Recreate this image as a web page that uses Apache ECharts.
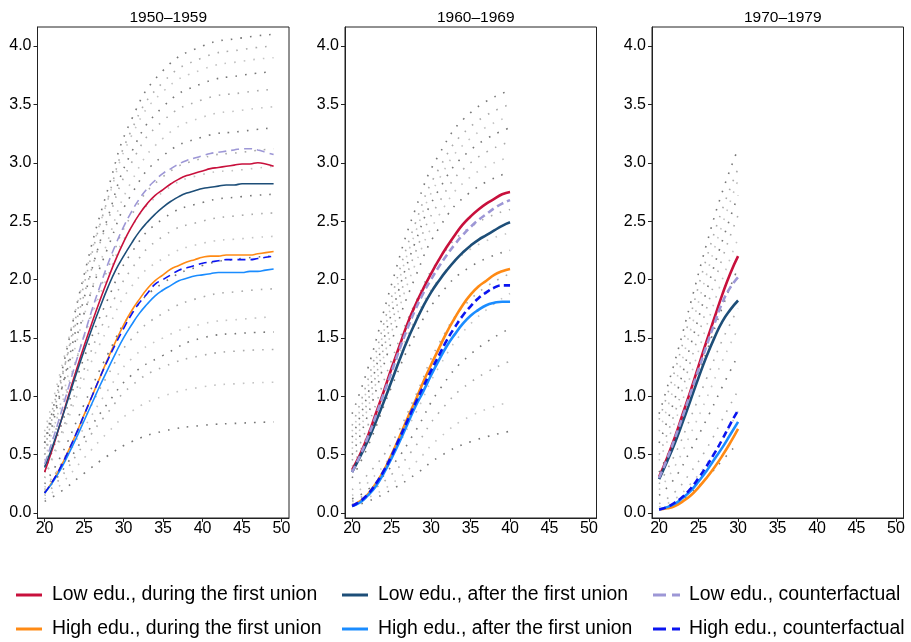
<!DOCTYPE html>
<html>
<head>
<meta charset="utf-8">
<script src="https://cdn.jsdelivr.net/npm/echarts@6/dist/echarts.min.js"></script>
<style>
  html, body { margin: 0; padding: 0; background: #fff; }
  #chart { width: 911px; height: 642px; }
</style>
</head>
<body>
<div id="chart"></div>
<script>
// panel titles
var panelTitles = ['1950\u20131959', '1960\u20131969', '1970\u20131979'];
var xTicks = [20, 25, 30, 35, 40, 45, 50];
var yTicks = [0, 0.5, 1, 1.5, 2, 2.5, 3, 3.5, 4];

var seriesNames = [
  'Low edu., during the first union',
  'Low edu., after the first union',
  'Low edu., counterfactual',
  'High edu., during the first union',
  'High edu., after the first union',
  'High edu., counterfactual'
];

// ages
var ages1 = [20,21,22,23,24,25,26,27,28,29,30,31,32,33,34,35,36,37,38,39,40,41,42,43,44,45,46,47,48,49];
var ages2 = [20,21,22,23,24,25,26,27,28,29,30,31,32,33,34,35,36,37,38,39,40];
var ages3 = [20,21,22,23,24,25,26,27,28,29,30];

// 1950-1959
var lowDuring1  = [0.35,0.55,0.77,1.0,1.22,1.43,1.63,1.82,2.0,2.17,2.32,2.45,2.56,2.65,2.72,2.77,2.82,2.86,2.89,2.91,2.93,2.95,2.96,2.97,2.98,2.99,2.99,3.0,2.99,2.97];
var lowAfter1   = [0.39,0.57,0.77,0.98,1.19,1.39,1.58,1.76,1.93,2.08,2.2,2.31,2.41,2.49,2.56,2.62,2.67,2.71,2.74,2.76,2.78,2.79,2.8,2.81,2.81,2.82,2.82,2.82,2.82,2.82];
var lowCf1      = [0.42,0.62,0.84,1.07,1.3,1.52,1.74,1.94,2.13,2.3,2.45,2.58,2.69,2.78,2.85,2.91,2.95,2.99,3.02,3.04,3.06,3.08,3.09,3.1,3.11,3.12,3.12,3.11,3.09,3.07];
var highDuring1 = [0.17,0.27,0.39,0.53,0.68,0.84,1.0,1.16,1.32,1.47,1.61,1.73,1.83,1.92,1.99,2.04,2.09,2.12,2.15,2.17,2.19,2.2,2.2,2.21,2.21,2.21,2.21,2.22,2.23,2.24];
var highAfter1  = [0.17,0.26,0.37,0.5,0.64,0.79,0.94,1.09,1.23,1.37,1.5,1.61,1.71,1.79,1.86,1.91,1.95,1.99,2.01,2.03,2.04,2.05,2.06,2.06,2.06,2.06,2.07,2.07,2.08,2.09];
var highCf1     = [0.17,0.27,0.39,0.53,0.68,0.84,1.0,1.16,1.31,1.45,1.58,1.7,1.8,1.88,1.96,2.0,2.04,2.08,2.1,2.12,2.14,2.15,2.16,2.17,2.17,2.17,2.17,2.18,2.19,2.2];

// 1960-1969
var lowDuring2  = [0.37,0.5,0.66,0.85,1.04,1.24,1.43,1.62,1.78,1.92,2.05,2.17,2.28,2.38,2.47,2.54,2.6,2.65,2.69,2.73,2.75];
var lowAfter2   = [0.35,0.48,0.62,0.78,0.95,1.13,1.31,1.48,1.63,1.77,1.89,1.99,2.08,2.16,2.23,2.29,2.34,2.38,2.42,2.46,2.49];
var lowCf2      = [0.35,0.49,0.65,0.83,1.02,1.21,1.4,1.58,1.74,1.88,2.0,2.11,2.21,2.3,2.38,2.45,2.51,2.56,2.61,2.65,2.68];
var highDuring2 = [0.06,0.1,0.16,0.25,0.36,0.5,0.65,0.81,0.96,1.12,1.27,1.41,1.55,1.67,1.78,1.87,1.94,1.99,2.04,2.07,2.09];
var highAfter2  = [0.06,0.09,0.15,0.23,0.34,0.47,0.61,0.76,0.91,1.04,1.18,1.31,1.43,1.53,1.62,1.69,1.74,1.78,1.8,1.81,1.81];
var highCf2     = [0.06,0.1,0.16,0.25,0.36,0.49,0.64,0.79,0.94,1.08,1.22,1.35,1.48,1.59,1.69,1.77,1.84,1.89,1.93,1.95,1.95];

// 1970-1979
var lowDuring3  = [0.31,0.47,0.65,0.85,1.05,1.26,1.47,1.67,1.87,2.05,2.2];
var lowAfter3   = [0.29,0.44,0.6,0.78,0.97,1.16,1.34,1.5,1.64,1.74,1.82];
var lowCf3      = [0.3,0.46,0.64,0.83,1.03,1.23,1.43,1.62,1.8,1.93,2.02];
var highDuring3 = [0.03,0.04,0.06,0.1,0.15,0.22,0.3,0.39,0.49,0.6,0.72];
var highAfter3  = [0.03,0.05,0.08,0.13,0.19,0.27,0.36,0.46,0.56,0.67,0.78];
var highCf3     = [0.03,0.05,0.09,0.14,0.21,0.3,0.4,0.51,0.63,0.76,0.88];

// grey dotted curves (other groups), read at a few ages
var greyAges1 = [20,22,25,28,31,35,40,45,49];
var grey1 = [
  [0.6,1.16,2.04,2.77,3.37,3.79,4.0,4.07,4.1],
  [0.55,1.1,1.96,2.69,3.28,3.69,3.9,3.97,4.0],
  [0.7,1.21,2.01,2.68,3.23,3.61,3.8,3.87,3.9],
  [0.5,1.02,1.84,2.53,3.09,3.48,3.68,3.75,3.78],
  [0.65,1.13,1.87,2.5,3.0,3.36,3.54,3.6,3.63],
  [0.45,0.93,1.69,2.33,2.84,3.21,3.39,3.45,3.48],
  [0.6,1.03,1.71,2.27,2.73,3.06,3.22,3.27,3.3],
  [0.4,0.84,1.52,2.09,2.55,2.88,3.04,3.09,3.12],
  [0.5,0.9,1.51,2.03,2.45,2.75,2.9,2.94,2.97],
  [0.35,0.73,1.33,1.83,2.23,2.52,2.66,2.71,2.73],
  [0.3,0.66,1.23,1.71,2.09,2.37,2.5,2.55,2.57],
  [0.3,0.63,1.15,1.58,1.94,2.18,2.31,2.35,2.37],
  [0.25,0.48,0.93,1.36,1.71,1.97,2.12,2.18,2.2],
  [0.2,0.41,0.8,1.18,1.49,1.71,1.85,1.9,1.92],
  [0.22,0.4,0.73,1.05,1.32,1.5,1.62,1.66,1.68],
  [0.18,0.34,0.65,0.94,1.18,1.35,1.5,1.54,1.55],
  [0.15,0.3,0.59,0.86,1.09,1.25,1.35,1.39,1.4],
  [0.12,0.24,0.47,0.69,0.87,1.0,1.08,1.11,1.12],
  [0.1,0.18,0.34,0.49,0.61,0.7,0.75,0.77,0.78]
];
var greyAges2 = [20,22,25,28,31,35,40];
var grey2 = [
  [0.85,1.24,1.96,2.6,3.07,3.43,3.62],
  [0.75,1.14,1.85,2.48,2.95,3.31,3.5],
  [0.7,1.08,1.78,2.4,2.86,3.21,3.4],
  [0.65,1.02,1.71,2.32,2.77,3.11,3.3],
  [0.6,0.96,1.63,2.23,2.66,3.0,3.18],
  [0.55,0.9,1.55,2.13,2.55,2.88,3.05],
  [0.5,0.84,1.47,2.02,2.44,2.75,2.92],
  [0.45,0.75,1.31,1.8,2.17,2.45,2.6],
  [0.4,0.68,1.2,1.66,2.0,2.26,2.4],
  [0.3,0.57,1.08,1.53,1.86,2.11,2.25],
  [0.2,0.33,0.6,1.0,1.45,1.83,2.05],
  [0.15,0.26,0.5,0.85,1.25,1.62,1.88],
  [0.12,0.2,0.4,0.7,1.05,1.36,1.58],
  [0.1,0.17,0.33,0.57,0.86,1.12,1.3],
  [0.08,0.13,0.25,0.43,0.64,0.83,0.95],
  [0.06,0.1,0.2,0.33,0.48,0.61,0.7]
];
var greyAges3 = [20,22,24,26,28,30];
var grey3 = [
  [0.85,1.3,1.8,2.3,2.75,3.12],
  [0.8,1.22,1.7,2.18,2.6,2.95],
  [0.7,1.1,1.57,2.04,2.47,2.85],
  [0.6,0.98,1.44,1.9,2.33,2.72],
  [0.5,0.86,1.3,1.75,2.18,2.55],
  [0.45,0.78,1.18,1.6,2.0,2.35],
  [0.35,0.64,1.0,1.38,1.76,2.1],
  [0.25,0.5,0.82,1.15,1.48,1.75],
  [0.2,0.4,0.68,0.98,1.3,1.58],
  [0.15,0.3,0.54,0.8,1.08,1.35],
  [0.08,0.18,0.35,0.55,0.8,1.05],
  [0.05,0.12,0.25,0.42,0.63,0.87],
  [0.03,0.08,0.17,0.3,0.45,0.6]
];

var lineColors = ['#c8103c', '#1d4e78', '#9d97d6', '#ff8a14', '#1a8cff', '#0a14f0'];
var greyColors = ['#777', '#aaa', '#c4c4c4'];

var panels = [
  { ages: ages1, main: [lowDuring1, lowAfter1, lowCf1, highDuring1, highAfter1, highCf1], gAges: greyAges1, grey: grey1, w: 1.6, left: 37.5 },
  { ages: ages2, main: [lowDuring2, lowAfter2, lowCf2, highDuring2, highAfter2, highCf2], gAges: greyAges2, grey: grey2, w: 2.6, left: 345 },
  { ages: ages3, main: [lowDuring3, lowAfter3, lowCf3, highDuring3, highAfter3, highCf3], gAges: greyAges3, grey: grey3, w: 2.6, left: 652 }
];

function pairs(xs, ys) {
  return xs.map(function (x, i) { return [x, ys[i]]; });
}

var grids = [], xAxes = [], yAxes = [], titles = [], series = [];
panels.forEach(function (p, k) {
  grids.push({ left: p.left, top: 27, width: 251.5, height: 491, show: true, borderColor: '#222', borderWidth: 1 });
  titles.push({
    text: panelTitles[k], left: p.left + 125.75, top: 5, textAlign: 'center',
    textStyle: { fontSize: 15.5, fontWeight: 'normal', color: '#000', fontFamily: 'Liberation Sans' }
  });
  xAxes.push({
    type: 'value', gridIndex: k, min: 19.1, max: 50.95,
    splitLine: { show: false },
    axisLine: { show: true, onZero: false, lineStyle: { color: '#222' } },
    axisTick: { show: true, length: 4, customValues: xTicks, lineStyle: { color: '#222' } },
    axisLabel: { customValues: xTicks, margin: 3, fontSize: 16, color: '#000', fontFamily: 'Liberation Sans' }
  });
  yAxes.push({
    type: 'value', gridIndex: k, min: -0.043, max: 4.163,
    splitLine: { show: false },
    axisLine: { show: true, onZero: false, lineStyle: { color: '#222' } },
    axisTick: { show: true, length: 4, customValues: yTicks, lineStyle: { color: '#222' } },
    axisLabel: {
      customValues: yTicks, margin: 6, fontSize: 16, color: '#000', fontFamily: 'Liberation Sans',
      formatter: function (v) { return v.toFixed(1); }
    }
  });
  p.grey.forEach(function (g, j) {
    series.push({
      type: 'line', xAxisIndex: k, yAxisIndex: k, smooth: true, symbol: 'none', silent: true,
      data: pairs(p.gAges, g), z: 1,
      lineStyle: { color: greyColors[j % 3], width: 1.6, type: [1.6, 8] }
    });
  });
  p.main.forEach(function (vals, j) {
    var dashed = (j === 2 || j === 5);
    series.push({
      name: seriesNames[j], type: 'line', xAxisIndex: k, yAxisIndex: k, smooth: true, symbol: 'none',
      color: lineColors[j],
      data: pairs(p.ages, vals), z: 3 + (dashed ? 1 : 0),
      lineStyle: { color: lineColors[j], width: p.w, type: dashed ? (k === 0 ? [8, 5] : [7, 4]) : 'solid' }
    });
  });
});

// one legend per item so the columns line up like the original
var legendPos = [
  { left: 11, top: 579 }, { left: 337, top: 579 }, { left: 648, top: 579 },
  { left: 11, top: 613 }, { left: 337, top: 613 }, { left: 648, top: 613 }
];
var legends = seriesNames.map(function (n, j) {
  var dashed = (j === 2 || j === 5);
  return {
    left: legendPos[j].left, top: legendPos[j].top, selectedMode: false,
    itemWidth: dashed ? 27 : 26, itemHeight: 3,
    textStyle: { fontSize: 19.4, lineHeight: 22, color: '#000', fontFamily: 'Liberation Sans', padding: [0, 0, 0, dashed ? 4 : 5] },
    data: [{
      name: n,
      icon: dashed ? 'path://M0 0H13V3H0Z M19 0H27V3H19Z' : 'rect',
      itemStyle: { color: lineColors[j] }
    }]
  };
});

var chart = echarts.init(document.getElementById('chart'));
chart.setOption({
  animation: false,
  backgroundColor: '#fff',
  title: titles,
  grid: grids,
  xAxis: xAxes,
  yAxis: yAxes,
  legend: legends,
  series: series
});
</script>
</body>
</html>
